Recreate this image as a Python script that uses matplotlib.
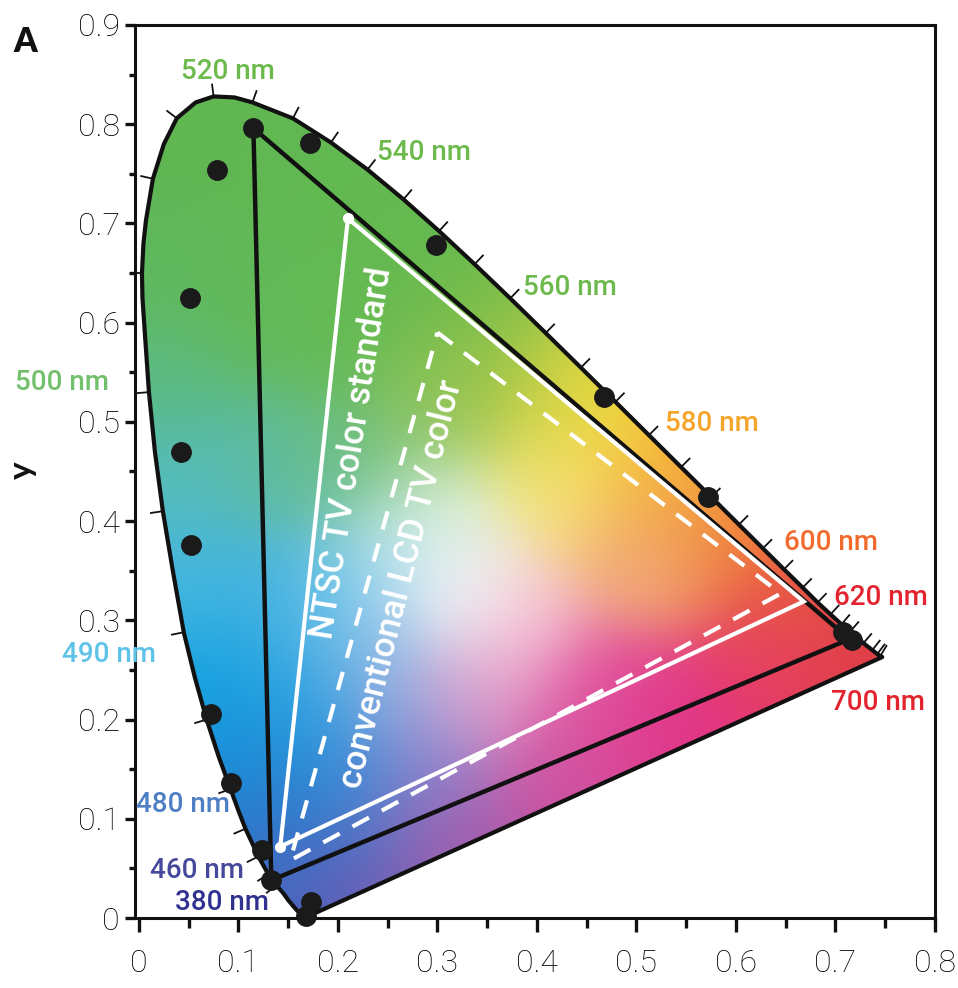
import numpy as np
import matplotlib
matplotlib.use("Agg")
import matplotlib.pyplot as plt
from matplotlib.patches import Polygon

# ---------------- data ----------------
locus_nm = [380, 400, 420, 440, 450, 455, 460, 465, 470, 475, 478, 480, 483, 485,
            488, 490, 493, 495, 498, 500, 502, 504, 505, 507, 508, 510, 513, 515,
            518, 520, 523, 525, 530, 535, 540, 545, 550, 555, 560, 565, 570, 575,
            580, 585, 590, 595, 600, 605, 610, 615, 620, 625, 630, 640, 650, 660,
            680, 700]
locus_x = [0.166, 0.165, 0.162, 0.155, 0.150, 0.145, 0.138, 0.130, 0.120, 0.107,
           0.100, 0.092, 0.080, 0.068, 0.056, 0.045, 0.034, 0.024, 0.016, 0.010,
           0.006, 0.0035, 0.003, 0.0045, 0.007, 0.014, 0.025, 0.038, 0.057, 0.075,
           0.096, 0.114, 0.1547, 0.1929, 0.2296, 0.2658, 0.3016, 0.3373, 0.3731,
           0.4087, 0.4441, 0.4788, 0.5125, 0.5448, 0.5752, 0.6029, 0.6270, 0.6482,
           0.6670, 0.6820, 0.6950, 0.7060, 0.7150, 0.7280, 0.7370, 0.7420, 0.7450,
           0.7470]
locus_y = [0.000, 0.001, 0.004, 0.012, 0.018, 0.025, 0.033, 0.044, 0.062, 0.090,
           0.108, 0.130, 0.163, 0.200, 0.243, 0.288, 0.350, 0.410, 0.470, 0.530,
           0.588, 0.625, 0.650, 0.680, 0.703, 0.745, 0.780, 0.806, 0.822, 0.828,
           0.827, 0.822, 0.8059, 0.7816, 0.7543, 0.7243, 0.6923, 0.6589, 0.6245,
           0.5896, 0.5547, 0.5202, 0.4866, 0.4544, 0.4242, 0.3965, 0.3725, 0.3514,
           0.3330, 0.3180, 0.3060, 0.2960, 0.2890, 0.2770, 0.2700, 0.2660, 0.2640,
           0.2630]
tick_nm = [460, 465, 470, 475, 480, 485, 490, 495, 500, 505, 510, 515, 520, 525,
           530, 535, 540, 545, 550, 555, 560, 565, 570, 575, 580, 585, 590, 595,
           600, 605, 610, 615, 620, 625, 630, 640, 650, 660, 680]

dot_x = [0.115, 0.078, 0.172, 0.299, 0.051, 0.467, 0.042, 0.572, 0.052, 0.708,
         0.717, 0.072, 0.092, 0.124, 0.133, 0.173, 0.168]
dot_y = [0.796, 0.754, 0.781, 0.678, 0.625, 0.525, 0.470, 0.424, 0.376, 0.288,
         0.280, 0.206, 0.136, 0.069, 0.038, 0.016, 0.002]

wide_tri_x = [0.115, 0.714, 0.133]
wide_tri_y = [0.796, 0.281, 0.038]
ntsc_x = [0.210, 0.668, 0.142]
ntsc_y = [0.705, 0.319, 0.072]
lcd_x = [0.300, 0.645, 0.152]
lcd_y = [0.590, 0.327, 0.058]

label_text = ["520 nm", "540 nm", "560 nm", "580 nm", "600 nm", "620 nm", "700 nm",
              "500 nm", "490 nm", "480 nm", "460 nm", "380 nm"]
label_x = [0.089, 0.286, 0.433, 0.576, 0.695, 0.746, 0.743, -0.077, -0.030, 0.044,
           0.058, 0.083]
label_y = [0.853, 0.772, 0.635, 0.498, 0.378, 0.323, 0.217, 0.540, 0.266, 0.114,
           0.048, 0.016]
label_color = ["#6cb94c", "#6cb94c", "#6cb94c", "#f4a52a", "#f26a2c", "#e3242f",
               "#e3242f", "#72c06c", "#5ec3e8", "#4f7fc3", "#45489b", "#313190"]

x_ticks = [0, 0.1, 0.2, 0.3, 0.4, 0.5, 0.6, 0.7, 0.8]
x_ticklabels = ["0", "0.1", "0.2", "0.3", "0.4", "0.5", "0.6", "0.7", "0.8"]
y_ticks = [0, 0.1, 0.2, 0.3, 0.4, 0.5, 0.6, 0.7, 0.8, 0.9]
y_ticklabels = ["0", "0.1", "0.2", "0.3", "0.4", "0.5", "0.6", "0.7", "0.8", "0.9"]

# colour anchors for the chromaticity fill (style)
anchor_x = [0.06, 0.15, 0.26, 0.02, 0.10, 0.20, 0.33, 0.38, 0.44, 0.52, 0.59, 0.66,
            0.73, 0.63, 0.53, 0.42, 0.32, 0.23, 0.165, 0.135, 0.10, 0.07, 0.05,
            0.035, 0.025,
            0.14, 0.22, 0.30, 0.15, 0.21, 0.17, 0.19, 0.28, 0.34, 0.46, 0.51, 0.42,
            0.30, 0.26, 0.37, 0.25, 0.315]
anchor_y = [0.80, 0.76, 0.68, 0.66, 0.62, 0.58, 0.60, 0.54, 0.51, 0.45, 0.39, 0.33,
            0.27, 0.26, 0.20, 0.14, 0.08, 0.035, 0.03, 0.08, 0.15, 0.24, 0.34,
            0.44, 0.54,
            0.45, 0.46, 0.52, 0.32, 0.32, 0.22, 0.12, 0.15, 0.22, 0.22, 0.36, 0.44,
            0.40, 0.35, 0.30, 0.25, 0.325]
anchor_rgb = [(96, 182, 80), (98, 184, 82), (100, 185, 80), (95, 183, 92),
              (98, 185, 88), (100, 186, 85), (115, 188, 75), (175, 200, 70),
              (240, 220, 55), (245, 180, 50), (240, 135, 55), (232, 90, 60),
              (222, 60, 70), (230, 60, 105), (225, 50, 135), (205, 80, 160),
              (170, 90, 170), (120, 95, 180), (80, 95, 185), (45, 115, 200),
              (25, 140, 215), (20, 162, 225), (70, 183, 225), (85, 188, 190),
              (92, 186, 130),
              (95, 188, 160), (110, 190, 125), (145, 196, 90), (60, 175, 225),
              (120, 200, 235), (40, 160, 225), (50, 140, 215), (120, 135, 210),
              (228, 160, 205), (225, 85, 160), (242, 170, 125), (247, 230, 130),
              (228, 245, 225), (200, 232, 246), (248, 205, 218), (160, 180, 228),
              (255, 255, 255)]
anchor_sigma = [0.05] * 41 + [0.036]

# ---------------- figure ----------------
plt.rcParams["font.family"] = ["Lato", "DejaVu Sans"]
fig = plt.figure(figsize=(9.58, 9.88), dpi=100)
ax = fig.add_axes([135 / 958, 1 - 918 / 988, 800 / 958, 893 / 988])
ax.set_xlim(-0.004, 0.8)
ax.set_ylim(0, 0.9)

# chromaticity fill
gx, gy = np.meshgrid(np.linspace(-0.004, 0.8, 640), np.linspace(0, 0.9, 720))
ax_a = np.array(anchor_x)[:, None, None]
ay_a = np.array(anchor_y)[:, None, None]
sg = np.array(anchor_sigma)[:, None, None]
d2 = (gx[None] - ax_a) ** 2 + (gy[None] - ay_a) ** 2
logw = -d2 / (2 * sg ** 2)
logw -= logw.max(axis=0, keepdims=True)
w = np.exp(logw)
w /= w.sum(axis=0, keepdims=True)
rgb = np.array(anchor_rgb, dtype=float) / 255.0
img = np.clip(np.einsum("kij,kc->ijc", w, rgb), 0, 1)

locus_pts = np.column_stack([locus_x, locus_y])
clip_poly = Polygon(locus_pts, closed=True, facecolor="none", edgecolor="none",
                    transform=ax.transData)
ax.add_patch(clip_poly)
im = ax.imshow(img, origin="lower", extent=[-0.004, 0.8, 0, 0.9], aspect="auto",
               interpolation="bilinear", zorder=1)
im.set_clip_path(clip_poly)

# locus outline
ax.add_patch(Polygon(locus_pts, closed=True, facecolor="none", edgecolor="#111111",
                     lw=3.0, joinstyle="round", zorder=3))

# wavelength ticks on locus (outward normals)
lx = np.array(locus_x)
ly = np.array(locus_y)
for nm in tick_nm:
    i = locus_nm.index(nm)
    tx = lx[i + 1] - lx[i - 1]
    ty = ly[i + 1] - ly[i - 1]
    nrm = np.hypot(tx, ty)
    nx, ny = ty / nrm, -tx / nrm
    if nx * (lx[i] - 0.33) + ny * (ly[i] - 0.33) < 0:
        nx, ny = -nx, -ny
    ax.plot([lx[i], lx[i] + 0.013 * nx], [ly[i], ly[i] + 0.013 * ny],
            color="#111111", lw=1.3, zorder=3, solid_capstyle="butt")

# triangles
ax.add_patch(Polygon(np.column_stack([wide_tri_x, wide_tri_y]), closed=True,
                     facecolor="none", edgecolor="#111111", lw=3.2, zorder=4))
ax.add_patch(Polygon(np.column_stack([ntsc_x, ntsc_y]), closed=True,
                     facecolor="none", edgecolor="white", lw=3.0, zorder=4))
ax.add_patch(Polygon(np.column_stack([lcd_x, lcd_y]), closed=True,
                     facecolor="none", edgecolor="white", lw=3.0, zorder=4,
                     linestyle=(0, (4.5, 3.5))))
ax.plot([ntsc_x[0], ntsc_x[2]], [ntsc_y[0], ntsc_y[2]], "o", color="white",
        ms=7, zorder=5)

# dots
ax.plot(dot_x, dot_y, "o", color="#1a1a1a", ms=14, zorder=6, clip_on=False)

# wavelength labels
for t, x, y, c in zip(label_text, label_x, label_y, label_color):
    ax.text(x, y, t, color=c, fontsize=20, ha="center", va="center",
            fontweight="medium", family=["Roboto", "DejaVu Sans"],
            zorder=7, clip_on=False)

# gamut texts
ax.text(0.214, 0.469, "NTSC TV color standard", color="white", fontsize=25,
        rotation=81, ha="center", va="center", rotation_mode="anchor",
        family=["Roboto", "DejaVu Sans"], fontweight="medium", zorder=7)
ax.text(0.2635, 0.336, "conventional LCD TV color", color="white", fontsize=25.5,
        rotation=76, ha="center", va="center", rotation_mode="anchor",
        family=["Roboto", "DejaVu Sans"], fontweight="medium", zorder=7)

# axes styling
ax.set_xticks(x_ticks)
ax.set_xticklabels(x_ticklabels)
ax.set_yticks(y_ticks)
ax.set_yticklabels(y_ticklabels)
ax.set_xticks(np.arange(0.05, 0.8, 0.1), minor=True)
ax.set_yticks(np.arange(0.05, 0.9, 0.1), minor=True)
for s in ax.spines.values():
    s.set_linewidth(2.2)
    s.set_color("#111111")
ax.tick_params(axis="x", which="major", direction="out", length=10, width=2.4,
               labelsize=23, pad=12, colors="#111111", labelcolor="black")
ax.tick_params(axis="x", which="minor", direction="out", length=7, width=2.4,
               colors="#111111")
ax.tick_params(axis="y", which="major", direction="out", length=7, width=2.4,
               labelsize=23, pad=4, colors="#111111", labelcolor="black")
ax.tick_params(axis="y", which="minor", direction="out", length=4.5, width=2.4,
               colors="#111111")
for lab in ax.get_xticklabels() + ax.get_yticklabels():
    lab.set_family(["Roboto", "Lato", "DejaVu Sans"])
    lab.set_fontweight("light")

fig.text(22 / 958, 1 - 470 / 988, "y", fontsize=24, fontweight="bold",
         rotation=90, ha="center", va="center", color="#111111")
fig.text(25 / 958, 1 - 42 / 988, "A", fontsize=24, fontweight="heavy",
         ha="center", va="center", color="#111111")

fig.savefig("out.png", dpi=100)
